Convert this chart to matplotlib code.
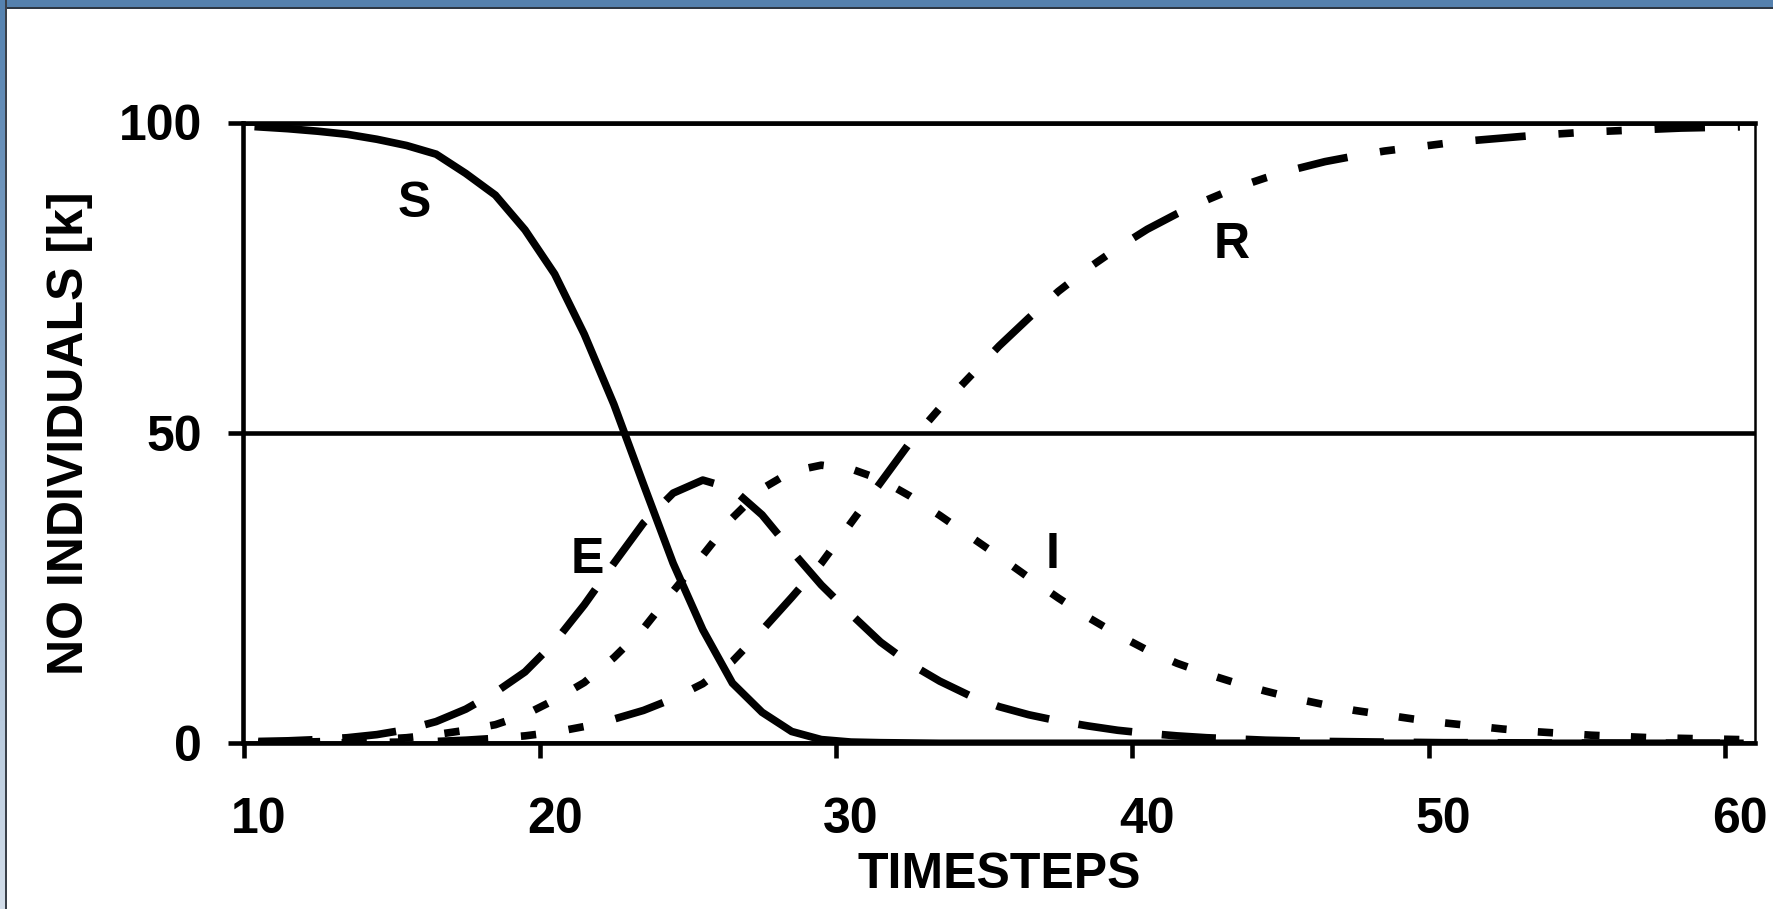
import numpy as np
import matplotlib
matplotlib.use("Agg")
import matplotlib.pyplot as plt

# ---------------- data ----------------
timesteps = list(range(10, 61))          # categories 10..60
S = [99.3, 99.0, 98.6, 98.1, 97.3, 96.3, 94.9, 91.8, 88.3, 82.7,
     75.6, 65.9, 54.6, 41.7, 29.0, 18.3, 9.7, 5.0, 1.9, 0.6,
     0.2, 0.1, 0.05] + [0.0] * 28
E = [0.3, 0.4, 0.6, 0.9, 1.4, 2.2, 3.5, 5.5, 8.2, 11.5,
     16.3, 22.3, 29.0, 35.5, 40.3, 42.4, 41.0, 36.8, 31.0, 25.5,
     20.8, 16.3, 12.8, 10.0, 7.7, 5.9, 4.6, 3.6, 2.8, 2.1,
     1.6, 1.2, 0.9, 0.7, 0.5, 0.4, 0.3, 0.25, 0.2, 0.15,
     0.1, 0.1, 0.08, 0.06, 0.05, 0.04, 0.03, 0.02, 0.02, 0.01, 0.01]
I = [0.1, 0.15, 0.25, 0.4, 0.6, 0.9, 1.4, 2.1, 3.0, 4.6,
     7.0, 9.8, 13.8, 18.5, 24.5, 30.3, 36.3, 41.0, 43.8, 44.8,
     44.2, 42.5, 39.8, 36.7, 33.4, 30.1, 26.7, 23.4, 20.3, 17.5,
     15.0, 12.9, 11.2, 9.7, 8.4, 7.2, 6.2, 5.3, 4.6, 3.9,
     3.3, 2.8, 2.3, 1.9, 1.6, 1.3, 1.1, 0.9, 0.8, 0.7, 0.6]
R = [0.0, 0.0, 0.05, 0.1, 0.15, 0.2, 0.3, 0.5, 0.8, 1.2,
     1.8, 2.7, 3.9, 5.3, 7.2, 9.6, 13.2, 18.2, 23.5, 29.0,
     35.5, 42.0, 48.5, 54.0, 59.0, 64.0, 68.5, 72.8, 76.5, 79.8,
     82.8, 85.3, 87.5, 89.5, 91.1, 92.5, 93.7, 94.6, 95.4, 96.0,
     96.6, 97.1, 97.5, 97.9, 98.2, 98.5, 98.7, 98.9, 99.1, 99.2, 99.3]
x_ticks = [10, 20, 30, 40, 50, 60]
x_tick_labels = ["10", "20", "30", "40", "50", "60"]
y_ticks = [0, 50, 100]
curve_names = ["S", "E", "I", "R"]
label_pos = [(15.76, 84.8), (21.6, 27.4), (37.31, 28.2), (43.35, 78.1)]
x_title = "TIMESTEPS"
y_title = "NO INDIVIDUALS [k]"

# ---------------- style ----------------
plt.rcParams["font.family"] = ["Liberation Sans", "DejaVu Sans"]
plt.rcParams["font.weight"] = "bold"
FS = 36

W, H = 1774, 909
fig = plt.figure(figsize=(W / 100, H / 100), dpi=100)
fig.patch.set_facecolor("white")

# slide-like border: top band and left band
top = np.zeros((9, W, 3))
top[:7] = np.array([0x55, 0x81, 0xAE]) / 255
top[7:] = np.array([0x2E, 0x38, 0x44]) / 255
fig.figimage(top, xo=0, yo=H - 9, origin="upper", zorder=10)
left = np.zeros((H, 7, 3))
c0 = np.array([0x55, 0x82, 0xB0]) / 255
c1 = np.array([0xD3, 0xDE, 0xEA]) / 255
tt = np.linspace(0, 1, H)[:, None]
left[:, :5] = (c0 * (1 - tt) + c1 * tt)[:, None, :]
left[:, 5:] = np.array([0x3A, 0x40, 0x49]) / 255
fig.figimage(left, xo=0, yo=0, origin="upper", zorder=10)

L, Rr, B, T = 243.5 / W, 1754.7 / W, 1 - 743.3 / H, 1 - 122.5 / H
ax = fig.add_axes([L, B, Rr - L, T - B])

x = np.array(timesteps) + 0.5   # category centres
lw = 5.5
ax.plot(x, S, color="black", lw=lw, solid_joinstyle="miter")
ax.plot(x, E, color="black", lw=lw, dashes=(7.1, 3.9))
ax.plot(x, I, color="black", lw=lw, dashes=(2.0, 4.1))
ax.plot(x, R, color="black", lw=lw, dashes=(6.6, 4.3, 2.0, 4.3, 2.0, 4.3))

for name, (px, py) in zip(curve_names, label_pos):
    ax.text(px, py, name, fontsize=FS, fontweight="bold", ha="center", va="baseline")

ax.set_xlim(10, 61)
ax.set_ylim(0, 100)
# tick marks on category boundaries, labels centred on categories
ax.set_xticks(x_ticks)
ax.set_xticklabels([""] * len(x_ticks))
ax.set_xticks(np.array(x_ticks) + 0.5, minor=True)
ax.set_xticklabels(x_tick_labels, minor=True)
ax.set_yticks(y_ticks)
ax.tick_params(direction="out", length=11, width=3.3, labelsize=FS, colors="black")
ax.tick_params(axis="x", which="minor", length=0, pad=39, labelsize=FS)
ax.tick_params(axis="y", pad=19)
ax.yaxis.grid(True, color="black", lw=3.3)
for s in ["left", "bottom", "top"]:
    ax.spines[s].set_linewidth(3.3)
ax.spines["right"].set_linewidth(1.8)

ax.set_xlabel(x_title, fontsize=FS, fontweight="bold", va="baseline")
ax.xaxis.set_label_coords(0.5, (743.3 - 888) / 620.8)
ax.set_ylabel(y_title, fontsize=FS, fontweight="bold", va="center")
ax.yaxis.set_label_coords((70 - 243.5) / 1511.2, 0.5)

fig.savefig("out.png", dpi=100)
